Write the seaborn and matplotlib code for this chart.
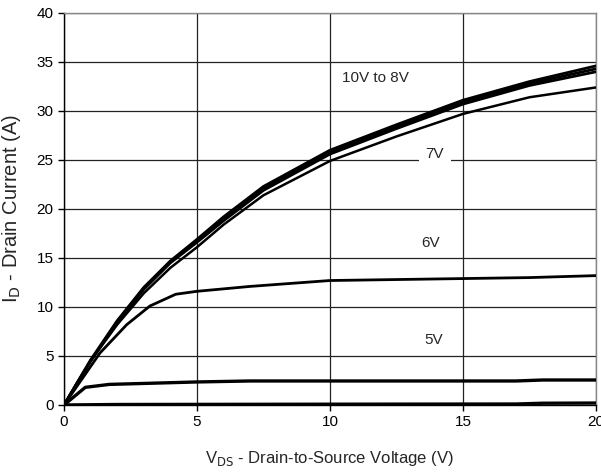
import numpy as np
import pandas as pd
import matplotlib
matplotlib.use("Agg")
import matplotlib.pyplot as plt
import seaborn as sns

# drain-to-source voltage samples (V)
vds = [0, 1, 2, 3, 4, 5, 6, 7.5, 10, 12.5, 15, 17.5, 20]

# drain current (A) for each gate voltage
id_10v = [0, 4.6, 8.6, 12.0, 14.7, 16.9, 19.2, 22.3, 26.0, 28.6, 31.1, 33.0, 34.6]
id_9v = [0, 4.5, 8.5, 11.9, 14.6, 16.8, 19.0, 22.1, 25.8, 28.4, 30.9, 32.8, 34.3]
id_8v = [0, 4.5, 8.4, 11.8, 14.5, 16.6, 18.8, 21.9, 25.6, 28.2, 30.7, 32.6, 34.0]
id_7v = [0, 4.5, 8.2, 11.4, 14.0, 16.1, 18.4, 21.4, 24.9, 27.4, 29.7, 31.4, 32.4]

vds_6v = [0, 1.35, 2.36, 3.23, 4.2, 5, 7, 10, 12.5, 15, 17.5, 20]
id_6v = [0, 5.3, 8.2, 10.1, 11.3, 11.6, 12.1, 12.7, 12.8, 12.9, 13.0, 13.2]

vds_5v = [0, 0.8, 1.7, 5, 7, 10, 15, 17, 18, 20]
id_5v = [0, 1.8, 2.1, 2.35, 2.45, 2.45, 2.45, 2.45, 2.55, 2.55]

vds_4v = [0, 2, 10, 17, 18, 20]
id_4v = [0, 0.05, 0.08, 0.1, 0.18, 0.2]

sns.set_style("white")
plt.rcParams['font.family'] = ['Liberation Sans Narrow', 'Liberation Sans', 'DejaVu Sans']

fig = plt.figure(figsize=(6.01, 4.74), dpi=100)
ax = fig.add_axes([0.1065, 0.1456, 0.885, 0.827])

curves = [(vds, id_10v, 2.0), (vds, id_9v, 2.0), (vds, id_8v, 2.0), (vds, id_7v, 1.8),
          (vds_6v, id_6v, 2.0), (vds_5v, id_5v, 2.4), (vds_4v, id_4v, 2.4)]
for x, y, lw in curves:
    sns.lineplot(x=x, y=y, ax=ax, color='black', linewidth=lw, zorder=3)

ax.set_xlim(0, 20)
ax.set_ylim(0, 40)
ax.set_xticks([0, 5, 10, 15, 20])
ax.set_yticks(range(0, 41, 5))
ax.grid(True, color='#222222', linewidth=0.9)
ax.tick_params(axis='both', direction='out', length=4, width=1, labelsize=11,
               bottom=True, left=True, colors='black')
for side in ['top', 'right']:
    ax.spines[side].set_color('#888888')
    ax.spines[side].set_linewidth(1)
for side in ['left', 'bottom']:
    ax.spines[side].set_color('black')
    ax.spines[side].set_linewidth(1)

ax.set_xlabel(r'V$_{\mathrm{DS}}$ - Drain-to-Source Voltage (V)', fontsize=12)
ax.xaxis.labelpad = 14
ax.set_ylabel(r'I$_{\mathrm{D}}$ - Drain Current (A)', fontsize=14.5,
              family=['Liberation Sans', 'DejaVu Sans'])
ax.yaxis.set_label_coords(-0.077, 0.5)

ax.text(11.7, 33.4, '10V to 8V', ha='center', va='center', fontsize=11, zorder=4)
ax.text(13.95, 25.6, '7V', ha='center', va='center', fontsize=11, zorder=4,
        bbox=dict(facecolor='white', edgecolor='none', pad=5))
ax.text(13.8, 16.5, '6V', ha='center', va='center', fontsize=11, zorder=4)
ax.text(13.9, 6.6, '5V', ha='center', va='center', fontsize=11, zorder=4)

fig.savefig('out.png', dpi=100)
